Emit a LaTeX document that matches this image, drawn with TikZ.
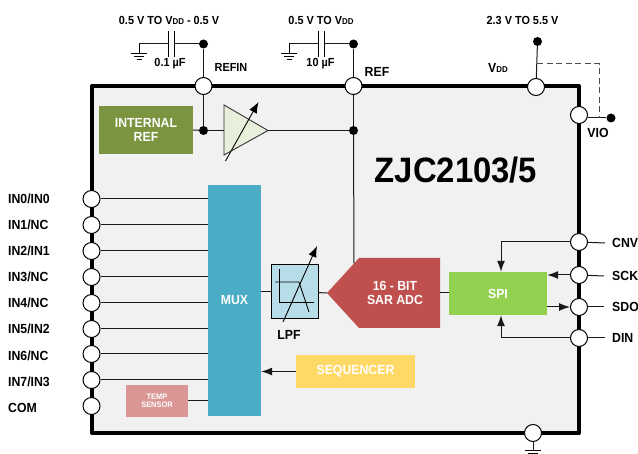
\documentclass[tikz,border=0pt]{standalone}
\usepackage{fontspec}
\setmainfont[FakeStretch=0.93]{Liberation Sans}
\usetikzlibrary{arrows.meta}
\newcommand{\vdd}{V{\fontsize{8.5}{8.5}\selectfont DD}}
\begin{document}
\begin{tikzpicture}[x=1pt, y=-1pt,
    every node/.style={font=\fontsize{13.2}{14.5}\selectfont\bfseries, align=center, inner sep=0pt},
    small/.style={font=\fontsize{11.7}{13}\selectfont\bfseries},
    pin/.style={circle, draw=black, fill=white, line width=1pt, minimum size=17pt},
    dot/.style={circle, fill=black, minimum size=9pt},
    block/.style={text=white},
    wire/.style={line width=1pt, black!90},
    tip/.style={wire, -{Latex[length=11pt,width=8pt]}},
    gnd/.pic={
        \draw[line width=1pt] (0,0) -- (0,10);
        \draw[line width=1pt] (-8,10) -- (8,10);
        \draw[line width=1pt] (-5,13) -- (5,13);
        \draw[line width=1pt] (-2.5,16) -- (2.5,16);
    }]

    % Colors
    \definecolor{chiparea}{RGB}{241,241,241}
    \definecolor{refgreen}{RGB}{123,148,63}
    \definecolor{ampgreen}{RGB}{232,240,220}
    \definecolor{muxblue}{RGB}{75,172,198}
    \definecolor{lpfblue}{RGB}{183,221,232}
    \definecolor{adcred}{RGB}{192,80,77}
    \definecolor{spigreen}{RGB}{146,208,80}
    \definecolor{seqyellow}{RGB}{255,217,102}
    \definecolor{temppink}{RGB}{217,150,148}

    \useasboundingbox (0,0) rectangle (638,454);

    % Chip outline
    \draw[fill=chiparea, line width=4pt, line join=round] (92,86) rectangle (579,433);

    % Blocks
    \node[block, fill=refgreen, minimum width=94pt, minimum height=48pt] (intref) at (146,130) {INTERNAL\\REF};
    \node[block, fill=muxblue, minimum width=53pt, minimum height=231pt] (mux) at (234.5,300.5) {MUX};
    \node[draw=black, fill=lpfblue, line width=0.9pt, minimum width=47pt, minimum height=54pt] (lpf) at (294.5,291.5) {};
    \node[block, fill=spigreen, minimum width=98pt, minimum height=43pt] (spi) at (498,293.5) {SPI};
    \node[block, fill=seqyellow, minimum width=119pt, minimum height=33pt] (seq) at (355.5,371.5) {SEQUENCER};
    \node[block, fill=temppink, minimum width=62pt, minimum height=32pt, font=\fontsize{8}{8.5}\selectfont\bfseries] (temp) at (157,401) {TEMP\\SENSOR};
    \fill[adcred] (327,293) -- (359,258) -- (440,258) -- (440,328) -- (359,328) -- cycle;
    \coordinate (adctip) at (327,293);
    \coordinate (adctop) at (354,263.5);
    \coordinate (adcright) at (440,293);
    \node[text=white] (adc) at (395,293) {16 - BIT\\SAR ADC};

    % Amplifier
    \fill[ampgreen] (224,105) -- (268,130.5) -- (224,155) -- cycle;
    \draw[line width=0.9pt, black!80] (224,105) -- (268,130.5) -- (224,155) -- cycle;
    \coordinate (ampin) at (224,130.5);
    \coordinate (ampout) at (268,130.5);

    % Pins
    \node[pin] (refin) at (203.5,86) {};
    \node[pin] (ref) at (353.5,86) {};
    \node[pin] (vddpin) at (536,87) {};
    \node[pin] (vio) at (579,115) {};
    \node[pin] (in0) at (91.5,199) {};
    \node[pin] (in1) at (91.5,225) {};
    \node[pin] (in2) at (91.5,251) {};
    \node[pin] (in3) at (91.5,277) {};
    \node[pin] (in4) at (91.5,303) {};
    \node[pin] (in5) at (91.5,329) {};
    \node[pin] (in6) at (91.5,354) {};
    \node[pin] (in7) at (91.5,380) {};
    \node[pin] (com) at (91.5,406) {};
    \node[pin] (cnv) at (579,242) {};
    \node[pin] (sck) at (579,275) {};
    \node[pin] (sdo) at (579,307) {};
    \node[pin] (din) at (579,338) {};
    \node[pin] (gndpin) at (533,433) {};

    % Dots
    \node[dot] (refindot) at (203.5,44) {};
    \node[dot] (refdot) at (353.5,44) {};
    \node[dot] (vdddot) at (537.5,41.5) {};
    \node[dot] (viodot) at (611,118) {};
    \node[dot] (refinjoin) at (203.5,130.5) {};
    \node[dot] (refjoin) at (353.5,130.5) {};

    % Texts
    \node[small] (refinsupply) at (169,20) {0.5 V TO \vdd{} - 0.5 V};
    \node[small] (refsupply) at (321,20) {0.5 V TO \vdd};
    \node[small] (viosupply) at (522.5,20) {2.3 V TO 5.5 V};
    \node[small] (capa) at (170,64) {0.1 µF};
    \node[small] (capb) at (320.5,64) {10 µF};
    \node[small] (refinlabel) at (231,67) {REFIN};
    \node (reflabel) at (377,71.5) {REF};
    \node (vddlabel) at (498,68) {\vdd};
    \node (violabel) at (598,133) {VIO};
    \node (lpflabel) at (289,335) {LPF};
    \node[font=\fontsize{35.3}{37}\selectfont\bfseries] (title) at (456,170) {ZJC2103/5};
    \node[anchor=west] (in0label) at (8,199) {IN0/IN0};
    \node[anchor=west] (in1label) at (8,225) {IN1/NC};
    \node[anchor=west] (in2label) at (8,251) {IN2/IN1};
    \node[anchor=west] (in3label) at (8,277) {IN3/NC};
    \node[anchor=west] (in4label) at (8,303) {IN4/NC};
    \node[anchor=west] (in5label) at (8,329) {IN5/IN2};
    \node[anchor=west] (in6label) at (8,356) {IN6/NC};
    \node[anchor=west] (in7label) at (8,382) {IN7/IN3};
    \node[anchor=west] (comlabel) at (8,408) {COM};
    \node[anchor=west] (cnvlabel) at (612,243) {CNV};
    \node[anchor=west] (scklabel) at (612,276) {SCK};
    \node[anchor=west] (sdolabel) at (612,307) {SDO};
    \node[anchor=west] (dinlabel) at (612,338) {DIN};

    % Capacitors
    \coordinate (capagnd) at (139,44);
    \coordinate (capaleft) at (168,44);
    \coordinate (caparight) at (174,44);
    \coordinate (capbgnd) at (289,44);
    \coordinate (capbleft) at (318,44);
    \coordinate (capbright) at (324,44);
    \draw[line width=1pt] (168,31) -- (168,57);
    \draw[line width=1pt] (174,31) -- (174,57);
    \draw[line width=1pt] (318,31) -- (318,57);
    \draw[line width=1pt] (324,31) -- (324,57);
    \draw[wire] (capagnd) -- (capaleft);
    \draw[wire] (caparight) -- (refindot);
    \draw[wire] (capbgnd) -- (capbleft);
    \draw[wire] (capbright) -- (refdot);
    \pic at (capagnd) {gnd};
    \pic at (capbgnd) {gnd};

    % Reference wires
    \draw[wire] (refindot) -- (refin);
    \draw[wire] (refdot) -- (ref);
    \draw[wire] (refin) -- (refinjoin);
    \draw[wire] (intref.east) -- (refinjoin);
    \draw[wire] (refinjoin) -- (ampin);
    \draw[wire] (ampout) -- (refjoin);
    \draw[wire] (ref) -- (refjoin);
    \draw[wire] (refjoin) -- (adctop);

    % Supply wires
    \coordinate (vddbranch) at (537,64);
    \coordinate (viocorner) at (599,64);
    \coordinate (viojoin) at (599,118);
    \draw[wire] (vdddot) -- (vddpin);
    \draw[wire] (vio.east |- viodot) -- (viodot);
    \draw[line width=1pt, black!70, dash pattern=on 6pt off 3.5pt] (vddbranch) -- (viocorner) -- (viojoin);

    % Inputs
    \draw[wire] (in0) -- (in0 -| mux.west);
    \draw[wire] (in1) -- (in1 -| mux.west);
    \draw[wire] (in2) -- (in2 -| mux.west);
    \draw[wire] (in3) -- (in3 -| mux.west);
    \draw[wire] (in4) -- (in4 -| mux.west);
    \draw[wire] (in5) -- (in5 -| mux.west);
    \draw[wire] (in6) -- (in6 -| mux.west);
    \draw[wire] (in7) -- (in7 -| mux.west);
    \draw[wire] (temp) -- (temp -| mux.west);

    % Signal path
    \draw[wire] (mux.east |- lpf) -- (lpf);
    \draw[wire] (lpf) -- (adctip);
    \draw[wire] (adcright) -- (spi.west |- adcright);
    \draw[tip] (seq) -- (seq -| mux.east);

    % LPF symbol
    \draw[line width=0.9pt] (279,269) -- (279,302) -- (314,302);
    \draw[line width=0.9pt] (275,282) -- (299,282) -- (309,312);
    \draw[line width=0.9pt, -{Latex[length=11pt,width=8.5pt]}] (283,322) -- (317,246);

    % Gain arrow of the amplifier
    \draw[line width=0.9pt, -{Latex[length=11pt,width=8.5pt]}] (225.5,161) -- (258.5,102);

    % Serial port
    \draw[tip] (cnv) -| (spi.north -| 501,0);
    \draw[tip] (sck) -- (sck -| spi.east);
    \draw[tip] (sdo -| spi.east) -- (sdo);
    \draw[tip] (din) -| (spi.south -| 501,0);
    \draw[wire] (cnv) -- (cnvlabel.west -| 605,0);
    \draw[wire] (sck) -- (scklabel.west -| 604,0);
    \draw[wire] (sdo) -- (sdolabel.west -| 604,0);
    \draw[wire] (din) -- (dinlabel.west -| 605,0);

    % Ground pin
    \coordinate (gndtop) at (533,442);
    \draw[wire] (gndpin) -- (gndtop);
    \draw[wire] (gndtop) -- (533,451);
    \draw[line width=1pt] (525,451) -- (541,451);
    \draw[line width=1pt] (528,454) -- (538,454);

\end{tikzpicture}
\end{document}
